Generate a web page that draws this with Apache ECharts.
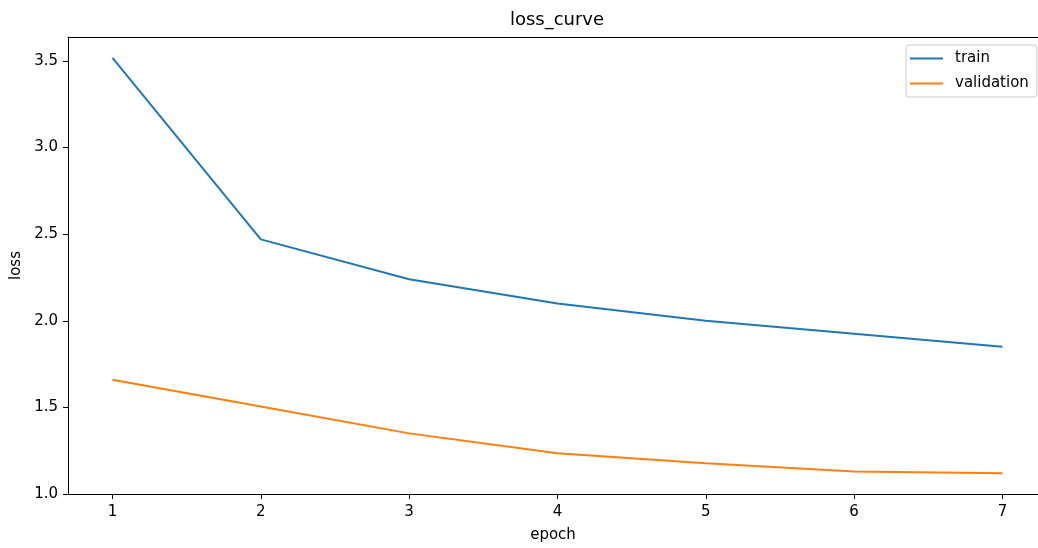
<!DOCTYPE html>
<html>
<head>
<meta charset="utf-8">
<script src="https://cdn.jsdelivr.net/npm/echarts@6/dist/echarts.min.js"></script>
<style>
  html, body { margin: 0; padding: 0; background: #fff; }
  #chart { width: 1038px; height: 548px; }
</style>
</head>
<body>
<div id="chart"></div>
<script>
// loss per epoch
const epochs = [1, 2, 3, 4, 5, 6, 7]
const trainLoss = [3.517, 2.47, 2.24, 2.10, 2.0, 1.925, 1.85]
const valLoss = [1.66, 1.505, 1.35, 1.235, 1.177, 1.13, 1.12]
const yTicks = [1.0, 1.5, 2.0, 2.5, 3.0, 3.5]

const font = 'DejaVu Sans'
const chart = echarts.init(document.getElementById('chart'))

// figure is cut on the right, so x max stops short of the usual 7.3
const xMin = 0.7
const xMax = 7.24

chart.setOption({
  animation: false,
  color: ['#1f77b4', '#ff7f0e'],
  title: {
    text: 'loss_curve',
    left: 552,
    textAlign: 'center',
    top: 6,
    textStyle: { fontFamily: font, fontSize: 18, fontWeight: 'normal', color: '#000' }
  },
  legend: {
    orient: 'vertical',
    left: 906,
    top: 45,
    icon: 'rect',
    itemWidth: 33,
    itemHeight: 2,
    itemGap: 10,
    padding: [6, 8, 6, 4],
    borderColor: '#cccccc',
    borderWidth: 1,
    borderRadius: 3,
    textStyle: { fontFamily: font, fontSize: 15, color: '#000', padding: [0, 0, 0, 7] },
    data: ['train', 'validation']
  },
  grid: {
    left: 68,
    right: 0,
    top: 37,
    bottom: 51
  },
  xAxis: [{
    type: 'value',
    min: xMin,
    max: xMax,
    name: 'epoch',
    nameLocation: 'middle',
    nameGap: 34,
    nameTextStyle: { fontFamily: font, fontSize: 15, color: '#000' },
    splitLine: { show: false },
    axisLine: { lineStyle: { color: '#000', width: 1 } },
    axisTick: { show: true, length: 5, lineStyle: { color: '#000' }, customValues: epochs },
    axisLabel: { fontFamily: font, fontSize: 15, color: '#000', margin: 11, customValues: epochs }
  }, {
    // top spine only
    type: 'value',
    position: 'top',
    min: xMin,
    max: xMax,
    splitLine: { show: false },
    axisLine: { show: true, lineStyle: { color: '#000', width: 1 } },
    axisTick: { show: false },
    axisLabel: { show: false }
  }],
  yAxis: {
    type: 'value',
    min: 1.0,
    max: 3.638,
    name: 'loss',
    nameLocation: 'middle',
    nameGap: 44,
    nameRotate: 90,
    nameTextStyle: { fontFamily: font, fontSize: 15, color: '#000' },
    splitLine: { show: false },
    axisLine: { show: true, lineStyle: { color: '#000', width: 1 } },
    axisTick: { show: true, length: 5, lineStyle: { color: '#000' }, customValues: yTicks },
    axisLabel: {
      fontFamily: font, fontSize: 15, color: '#000', margin: 10,
      customValues: yTicks,
      formatter: v => v.toFixed(1)
    }
  },
  series: [{
    name: 'train',
    type: 'line',
    showSymbol: false,
    lineStyle: { width: 2 },
    data: epochs.map((e, i) => [e, trainLoss[i]])
  }, {
    name: 'validation',
    type: 'line',
    showSymbol: false,
    lineStyle: { width: 2 },
    data: epochs.map((e, i) => [e, valLoss[i]])
  }]
})
</script>
</body>
</html>
